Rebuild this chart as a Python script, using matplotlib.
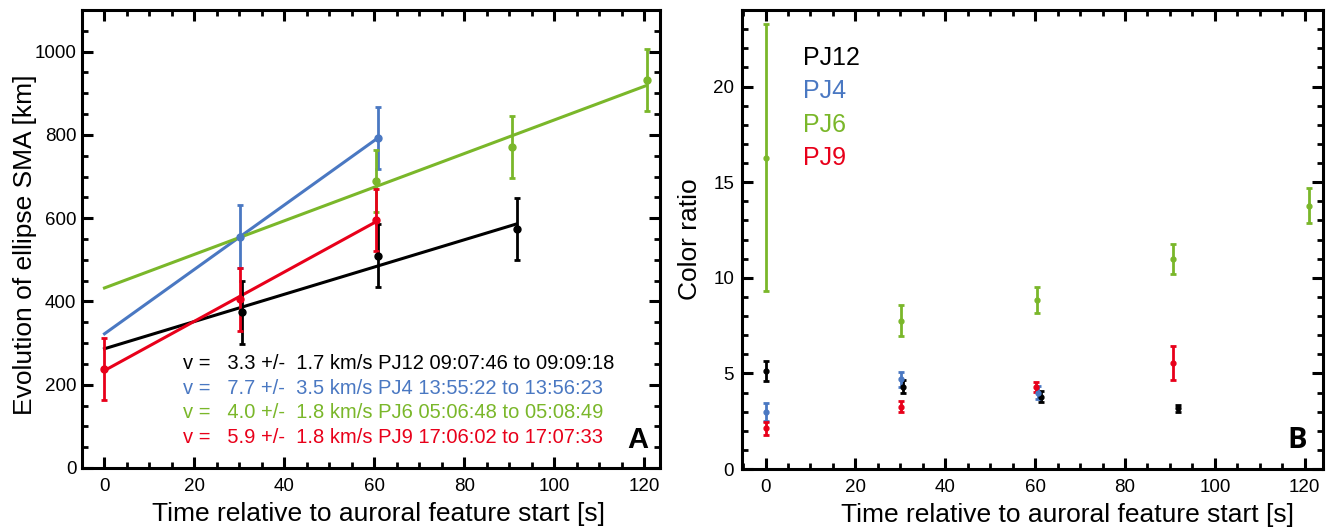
import numpy as np
import matplotlib
matplotlib.use("Agg")
import matplotlib.pyplot as plt
from matplotlib.ticker import MultipleLocator

plt.rcParams['font.family'] = ['Liberation Sans', 'DejaVu Sans']

# ---------------- data ----------------
names = ['PJ12', 'PJ4', 'PJ6', 'PJ9']
colors = ['#000000', '#4a78c2', '#7ab72a', '#e8001a']

# Panel A : evolution of ellipse SMA [km]
pj12_t_a = [30.5, 60.9, 91.6]
pj12_sma = [374, 510, 574]
pj12_sma_err = [76, 75, 75]

pj4_t_a = [30.2, 60.7]
pj4_sma = [556, 792]
pj4_sma_err = [75, 75]

pj6_t_a = [60.3, 90.5, 120.5]
pj6_sma = [689, 771, 932]
pj6_sma_err = [75, 75, 75]

pj9_t_a = [0.0, 30.2, 60.3]
pj9_sma = [238, 405, 595]
pj9_sma_err = [75, 75, 75]

vel = [3.3, 7.7, 4.0, 5.9]
vel_err = [1.7, 3.5, 1.8, 1.8]
t_start = ['09:07:46', '13:55:22', '05:06:48', '17:06:02']
t_end = ['09:09:18', '13:56:23', '05:08:49', '17:07:33']

# Panel B : color ratio
pj12_t_b = [0.0, 30.6, 61.2, 91.7]
pj12_cr = [5.13, 4.30, 3.78, 3.17]
pj12_cr_err = [0.53, 0.35, 0.30, 0.20]

pj4_t_b = [0.0, 30.2, 60.7]
pj4_cr = [2.96, 4.69, 4.00]
pj4_cr_err = [0.47, 0.38, 0.35]

pj6_t_b = [0.0, 30.1, 60.4, 90.6, 120.9]
pj6_cr = [16.28, 7.76, 8.84, 10.98, 13.77]
pj6_cr_err = [6.97, 0.81, 0.68, 0.80, 0.92]

pj9_t_b = [0.0, 30.1, 60.3, 90.6]
pj9_cr = [2.13, 3.26, 4.27, 5.53]
pj9_cr_err = [0.35, 0.30, 0.26, 0.90]

x_label = 'Time relative to auroral feature start [s]'

# ---------------- figure ----------------
W, H = 1328, 531
fig = plt.figure(figsize=(W / 100, H / 100), dpi=100)
axA = fig.add_axes([82 / W, 1 - 468 / H, 578 / W, 458 / H])
axB = fig.add_axes([741.7 / W, 1 - 469 / H, 581 / W, 459 / H])


def style(ax):
    for s in ax.spines.values():
        s.set_linewidth(2.2)
    ax.tick_params(which='both', direction='in', top=True, right=True,
                   labelsize=13.5, width=2.2)
    ax.tick_params(which='major', length=8)
    ax.tick_params(which='minor', length=4.5, width=2.0)
    ax.tick_params(axis='x', which='major', pad=7)
    ax.tick_params(axis='y', which='major', pad=4)


# Panel A
sets_a = [(pj12_t_a, pj12_sma, pj12_sma_err),
          (pj4_t_a, pj4_sma, pj4_sma_err),
          (pj6_t_a, pj6_sma, pj6_sma_err),
          (pj9_t_a, pj9_sma, pj9_sma_err)]
for (t, y, e), c in zip(sets_a, colors):
    t = np.asarray(t, float)
    y = np.asarray(y, float)
    k, b = np.polyfit(t, y, 1)
    tl = np.array([0.0, t.max()])
    axA.plot(tl, k * tl + b, color=c, lw=2.2, zorder=2)
    axA.errorbar(t, y, yerr=e, fmt='o', color=c, ms=5, elinewidth=2.0,
                 capsize=2.5, capthick=2.0, zorder=3)

axA.set_xlim(-5, 123.5)
axA.set_ylim(0, 1100)
axA.xaxis.set_major_locator(MultipleLocator(20))
axA.xaxis.set_minor_locator(MultipleLocator(5))
axA.yaxis.set_major_locator(MultipleLocator(200))
axA.yaxis.set_minor_locator(MultipleLocator(50))
style(axA)
axA.set_xlabel(x_label, fontsize=19)
axA.xaxis.set_label_coords(0.513, -0.074)
axA.set_ylabel('Evolution of ellipse SMA [km]', fontsize=19)
axA.yaxis.set_label_coords(-0.077, 0.487)

rows_y = [0.216, 0.162, 0.109, 0.055]
for i in range(4):
    txt = f"v =   {vel[i]:.1f} +/-  {vel_err[i]:.1f} km/s {names[i]} {t_start[i]} to {t_end[i]}"
    axA.text(0.174, rows_y[i], txt, transform=axA.transAxes, color=colors[i],
             fontsize=14.5, ha='left', va='baseline')
axA.text(0.979, 0.044, 'A', transform=axA.transAxes, fontsize=21,
         fontweight='bold', ha='right', va='baseline')

# Panel B
sets_b = [(pj12_t_b, pj12_cr, pj12_cr_err),
          (pj4_t_b, pj4_cr, pj4_cr_err),
          (pj6_t_b, pj6_cr, pj6_cr_err),
          (pj9_t_b, pj9_cr, pj9_cr_err)]
for (t, y, e), c in zip(sets_b, colors):
    axB.errorbar(t, y, yerr=e, fmt='o', color=c, ms=3.5, elinewidth=2.0,
                 capsize=2.5, capthick=2.0, zorder=3)

axB.set_xlim(-5.3, 124)
axB.set_ylim(0, 24)
axB.xaxis.set_major_locator(MultipleLocator(20))
axB.xaxis.set_minor_locator(MultipleLocator(5))
axB.yaxis.set_major_locator(MultipleLocator(5))
axB.yaxis.set_minor_locator(MultipleLocator(1))
style(axB)
axB.tick_params(axis='y', which='major', pad=5.5)
axB.set_xlabel(x_label, fontsize=19)
axB.xaxis.set_label_coords(0.561, -0.074)
axB.set_ylabel('Color ratio', fontsize=19)
axB.yaxis.set_label_coords(-0.068, 0.5)

leg_y = [0.880, 0.808, 0.735, 0.662]
for i in range(4):
    axB.text(0.1055, leg_y[i], names[i], transform=axB.transAxes,
             color=colors[i], fontsize=18, ha='left', va='baseline')
axB.text(0.973, 0.046, 'B', transform=axB.transAxes, fontsize=21,
         fontweight='bold', ha='right', va='baseline',
         family=['Open Sans', 'DejaVu Sans'])

fig.savefig('out.png', dpi=100)
